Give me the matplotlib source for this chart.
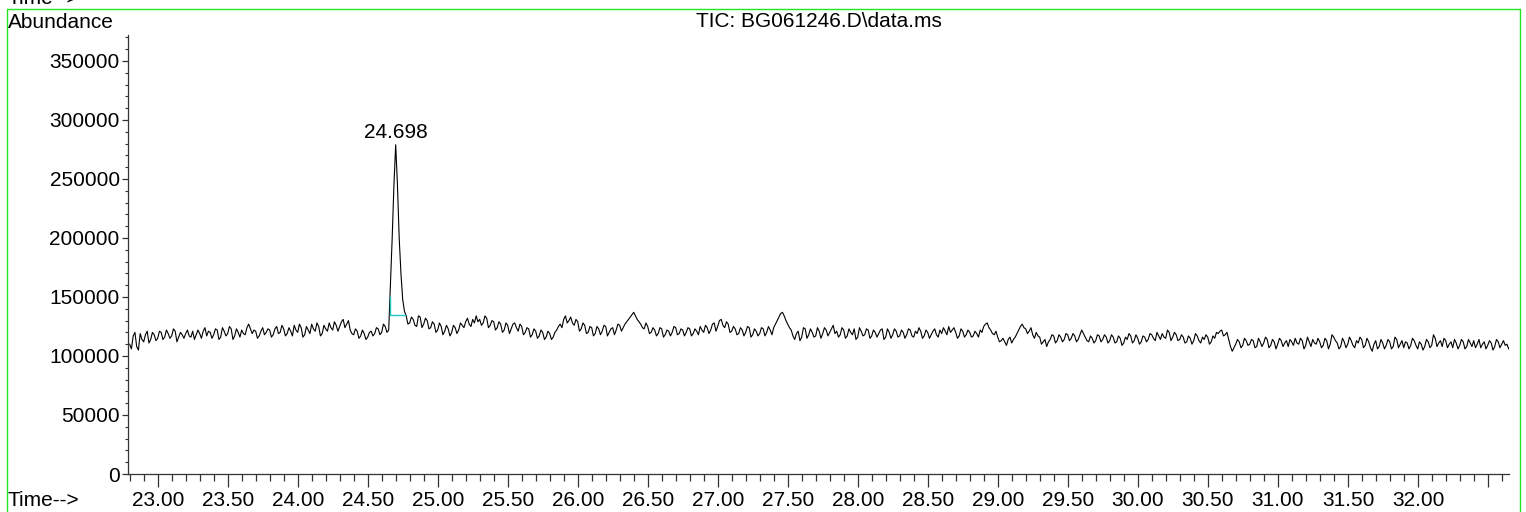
import numpy as np
import matplotlib.pyplot as plt
from matplotlib.patches import Rectangle

plt.rcParams['font.family'] = ['Liberation Sans', 'DejaVu Sans']

# TIC trace, abundance in thousands. Scans every 0.0125 min from t0;
# even scans and odd scans are kept in two lists and interleaved.
t0 = 22.798
dt = 0.0125
abund_even_k = [
    110, 117, 108, 119, 112, 121, 114, 118, 115, 120, 116, 119, 117, 121, 116, 118, 119, 117, 121, 118,
    119, 121, 117, 120, 118, 122, 116, 121, 119, 123, 117, 120, 122, 118, 127, 119, 121, 117, 124, 120,
    122, 118, 125, 120, 123, 119, 121, 126, 120, 124, 118, 122, 127, 121, 125, 119, 123, 128, 122, 126,
    125, 131, 127, 122, 118, 121, 117, 119, 116, 121, 119, 123, 120, 125, 122, 200, 279, 200, 148, 134,
    128, 131, 125, 133, 127, 130, 124, 127, 122, 125, 121, 123, 120, 124, 122, 126, 129, 127, 131, 134,
    131, 128, 132, 126, 129, 124, 127, 122, 126, 123, 128, 121, 125, 120, 123, 118, 121, 117, 120, 116,
    119, 116, 122, 127, 131, 128, 133, 126, 129, 123, 126, 120, 124, 119, 123, 121, 125, 120, 124, 122,
    126, 124, 129, 133, 137, 131, 127, 123, 125, 120, 122, 119, 123, 118, 121, 120, 124, 119, 122, 120,
    123, 119, 121, 125, 120, 124, 122, 128, 125, 131, 124, 127, 121, 123, 119, 122, 120, 124, 118, 121,
    119, 123, 120, 122, 124, 130, 136, 134, 127, 122, 114, 121, 116, 123, 118, 120, 117, 121, 119, 122,
    120, 126, 121, 118, 122, 117, 120, 123, 116, 121, 118, 122, 117, 120, 119, 123, 116, 120, 118, 121,
    117, 120, 118, 122, 116, 119, 121, 117, 120, 118, 123, 116, 119, 121, 125, 122, 120, 117, 121, 118,
    120, 117, 119, 122, 125, 128, 122, 118, 116, 113, 112, 114, 111, 116, 122, 127, 123, 121, 118, 120,
    116, 112, 108, 114, 117, 113, 116, 114, 118, 115, 117, 114, 122, 116, 112, 115, 113, 117, 114, 116,
    113, 116, 112, 115, 111, 114, 117, 113, 115, 112, 116, 114, 118, 113, 117, 119, 115, 120, 116, 118,
    114, 116, 112, 115, 113, 117, 111, 114, 116, 112, 115, 119, 122, 118, 114, 104, 110, 112, 109, 113,
    110, 113, 108, 112, 111, 114, 109, 112, 110, 113, 111, 108, 112, 115, 110, 113, 109, 112, 114, 110,
    112, 109, 113, 110, 116, 111, 108, 112, 110, 113, 107, 111, 114, 109, 112, 104, 113, 108, 111, 109,
    112, 108, 114, 110, 107, 111, 109, 113, 106, 110, 108, 112, 109, 115, 111, 108, 113, 110, 107, 111,
    109, 112, 108, 111, 113, 110, 107, 112, 109, 111, 108, 112, 110, 109, 106,
]
abund_odd_k = [
    106, 120, 105, 114, 118, 111, 120, 113, 121, 114, 122, 115, 123, 112, 120, 115, 122, 116, 114, 122,
    115, 124, 121, 115, 123, 114, 124, 117, 125, 114, 123, 116, 119, 124, 123, 122, 115, 121, 118, 123,
    116, 123, 119, 126, 117, 124, 117, 122, 127, 116, 125, 119, 123, 128, 117, 126, 121, 124, 129, 121,
    129, 124, 130, 119, 123, 115, 122, 114, 120, 117, 124, 118, 127, 120, 160, 245, 245, 170, 138, 127,
    133, 126, 134, 124, 132, 123, 129, 120, 128, 118, 126, 117, 126, 119, 128, 124, 132, 125, 128, 129,
    126, 134, 124, 130, 122, 129, 120, 128, 119, 127, 124, 127, 118, 124, 116, 123, 115, 122, 114, 121,
    114, 120, 125, 124, 134, 130, 128, 131, 121, 128, 119, 125, 117, 125, 118, 126, 117, 123, 118, 127,
    121, 127, 131, 135, 134, 129, 124, 128, 119, 124, 117, 124, 116, 122, 117, 125, 118, 123, 117, 124,
    117, 123, 118, 122, 126, 119, 127, 121, 130, 126, 129, 120, 125, 118, 124, 117, 125, 116, 123, 117,
    124, 117, 125, 118, 127, 133, 137, 130, 124, 117, 119, 113, 124, 115, 123, 116, 124, 115, 124, 117,
    123, 119, 116, 124, 115, 123, 118, 114, 124, 117, 123, 115, 122, 116, 122, 114, 123, 115, 123, 116,
    122, 115, 123, 117, 121, 124, 115, 122, 115, 121, 118, 122, 124, 118, 120, 124, 115, 123, 116, 122,
    116, 121, 116, 120, 127, 124, 119, 121, 112, 115, 109, 116, 114, 119, 125, 124, 119, 124, 115, 117,
    110, 114, 112, 118, 111, 118, 112, 119, 113, 119, 112, 118, 119, 113, 117, 111, 118, 112, 118, 111,
    118, 111, 117, 109, 116, 119, 111, 118, 110, 117, 112, 119, 115, 120, 114, 116, 122, 113, 120, 113,
    118, 111, 117, 110, 119, 113, 116, 118, 110, 117, 120, 121, 117, 120, 108, 107, 114, 107, 115, 109,
    114, 107, 115, 108, 116, 107, 114, 106, 115, 108, 113, 114, 109, 111, 115, 106, 116, 108, 111, 115,
    107, 115, 106, 118, 113, 106, 115, 107, 116, 109, 113, 116, 107, 115, 107, 110, 106, 114, 106, 114,
    106, 116, 107, 113, 112, 106, 115, 109, 112, 105, 114, 107, 118, 108, 113, 115, 107, 112, 114, 106,
    114, 106, 114, 108, 107, 114, 110, 106, 113, 105, 114, 107, 113, 110,
]

# integration baseline drawn under the peak (time, abundance)
base_t = [24.657, 24.657, 24.764]
base_y = [150000, 134700, 134700]

peak_label = '24.698'

major_ticks = [23.0, 23.5, 24.0, 24.5, 25.0, 25.5, 26.0, 26.5, 27.0, 27.5,
               28.0, 28.5, 29.0, 29.5, 30.0, 30.5, 31.0, 31.5, 32.0, 32.5]
major_labels = ['23.00', '23.50', '24.00', '24.50', '25.00', '25.50', '26.00',
                '26.50', '27.00', '27.50', '28.00', '28.50', '29.00', '29.50',
                '30.00', '30.50', '31.00', '31.50', '32.00', '']
y_ticks = [0, 50000, 100000, 150000, 200000, 250000, 300000, 350000]

n = len(abund_even_k) + len(abund_odd_k)
abund = np.empty(n)
abund[0::2] = abund_even_k
abund[1::2] = abund_odd_k
abund *= 1000.0
times = t0 + dt * np.arange(n)

fs = 15

fig = plt.figure(figsize=(15.26, 5.12), dpi=100)
ax = fig.add_axes([128 / 1526, 38 / 512, 1381 / 1526, 439 / 512])

ax.plot(times, abund, color='black', lw=0.8)
ax.plot(base_t, base_y, color='#1ec8c8', lw=1.0)

i_pk = int(np.argmax(abund))
ax.annotate(peak_label, (times[i_pk], abund[i_pk]), xytext=(0, 2),
            textcoords='offset points', ha='center', va='bottom', fontsize=fs)

ax.set_xlim(22.786, 32.65)
ax.set_ylim(0, 372000)

for s in ['top', 'right']:
    ax.spines[s].set_visible(False)
for s in ['left', 'bottom']:
    ax.spines[s].set_color('#333333')
    ax.spines[s].set_linewidth(0.9)

ax.set_xticks(major_ticks, major_labels)
ax.set_xticks(np.arange(22.8, 32.65, 0.1), minor=True)
ax.set_yticks(y_ticks, [str(v) for v in y_ticks])
ax.set_yticks(np.arange(0, 372000, 10000), minor=True)

ax.tick_params(axis='x', which='major', direction='out', length=9, width=0.9,
               labelsize=fs, pad=3, color='#333333')
ax.tick_params(axis='x', which='minor', direction='out', length=5, width=0.9,
               color='#333333')
ax.tick_params(axis='y', which='major', direction='out', length=4, width=0.9,
               labelsize=fs, pad=2, color='#333333')
ax.tick_params(axis='y', which='minor', direction='out', length=2, width=0.8,
               color='#333333')

ax.set_title('TIC: BG061246.D\\data.ms', fontsize=fs, pad=6)

fig.text(8 / 1526, 1 - 28 / 512, 'Abundance', fontsize=fs, va='baseline')
fig.text(8 / 1526, 1 - 506 / 512, 'Time-->', fontsize=fs, va='baseline')
fig.text(8 / 1526, 1 - 4 / 512, 'Time-->', fontsize=fs, va='baseline')

# green frame around the report panel
fig.patches.append(Rectangle((6.5 / 1526, -0.05), 1513 / 1526, 1.05 - 8.5 / 512,
                             transform=fig.transFigure, fill=False,
                             edgecolor='#22e622', lw=1.0))

fig.savefig('out.png', dpi=100)
